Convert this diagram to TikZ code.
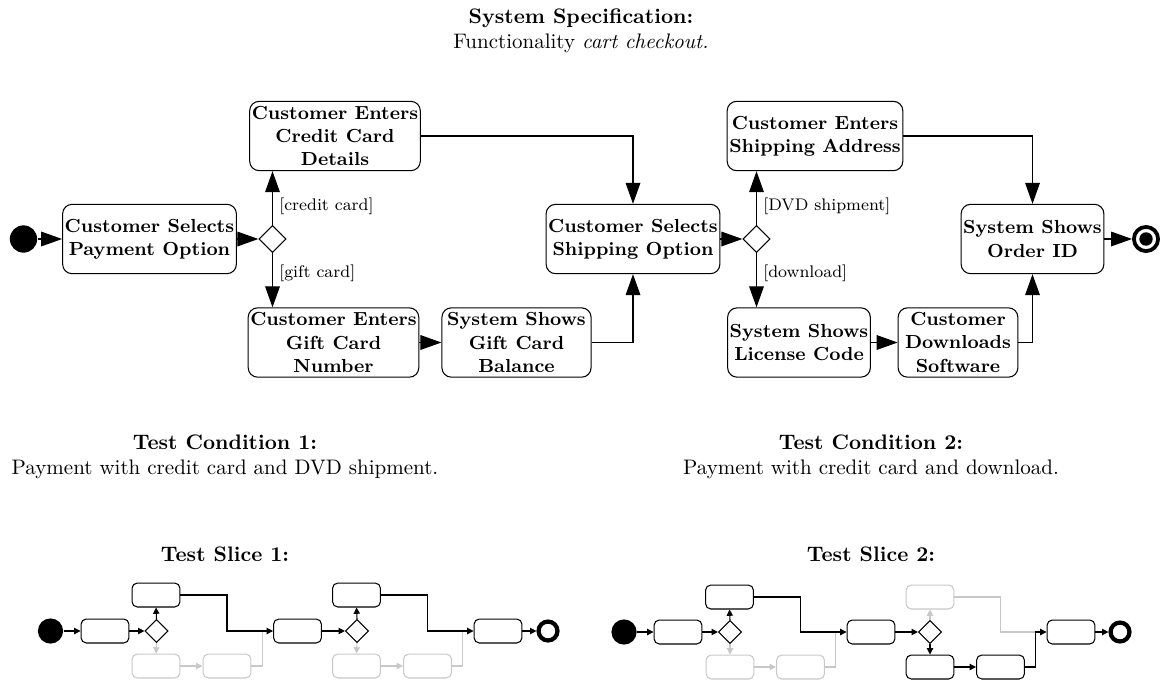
\documentclass[tikz,border=0pt]{standalone}
\usepackage{tikz}
\usepackage{xcolor}
\usetikzlibrary{arrows.meta, calc, shapes.geometric}
\definecolor{fadedgray}{RGB}{200,200,200}

\tikzset{
  action/.style={draw, rounded corners=4.5pt, align=center, font=\small\bfseries, inner sep=1pt, minimum height=33pt},
  decision/.style={draw, diamond, minimum size=13pt, inner sep=0pt},
  startdot/.style={circle, fill=black, minimum size=13pt, inner sep=0pt},
  enddot/.style={circle, draw, line width=1.8pt, minimum size=11.5pt, inner sep=0pt,
    path picture={\fill (path picture bounding box.center) circle (3.2pt);}},
  guard/.style={right, font=\footnotesize, inner sep=3pt},
  slicebox/.style={draw, rounded corners=2.5pt, minimum width=22.8pt, minimum height=11.4pt, inner sep=0pt},
  slicedec/.style={draw, diamond, minimum size=11pt, inner sep=0pt},
  sliceend/.style={circle, draw, line width=2pt, minimum size=9pt, inner sep=0pt},
  faded/.style={draw=fadedgray}
}

\begin{document}
\begin{tikzpicture}[x=0.476pt, y=-0.476pt, line width=0.5pt, >={Triangle[length=10pt,width=7pt]}]
    \useasboundingbox (0,0) rectangle (1162,680);

    % Specification
    \node[align=center] (spec) at (581,31) {\textbf{System Specification:}\\Functionality \textit{cart checkout.}};

    % Activity nodes
    \node[startdot] (start) at (23.5,239) {};
    \node[action, minimum width=78.5pt] (payopt) at (149.5,239) {Customer Selects\\Payment Option};
    \node[decision] (paydec) at (272.5,239) {};
    \node[action, minimum width=79pt] (credit) at (335,136) {Customer Enters\\Credit Card\\Details};
    \node[action, minimum width=76.7pt] (giftnum) at (333.5,342.5) {Customer Enters\\Gift Card\\Number};
    \node[action, minimum width=71pt] (giftbal) at (516.5,342.5) {System Shows\\Gift Card\\Balance};
    \node[action, minimum width=79pt] (shipopt) at (633,239) {Customer Selects\\Shipping Option};
    \node[decision] (shipdec) at (756.5,239) {};
    \node[action, minimum width=82.8pt] (address) at (815,136) {Customer Enters\\Shipping Address};
    \node[action, minimum width=67.6pt] (license) at (799,342.5) {System Shows\\License Code};
    \node[action, minimum width=57pt] (download) at (958,342.5) {Customer\\Downloads\\Software};
    \node[action, minimum width=66pt] (orderid) at (1032.5,239) {System Shows\\Order ID};
    \node[enddot] (stop) at (1146,239) {};

    % Control flow
    \draw[->] (start) -- (payopt);
    \draw[->] (payopt) -- (paydec);
    \draw[->] (paydec.north) -- (paydec.north |- credit.south) node[guard, pos=0.35] {[credit card]};
    \draw[->] (paydec.south) -- (paydec.south |- giftnum.north) node[guard, pos=0.38] {[gift card]};
    \draw[->] (giftnum) -- (giftbal);
    \draw[->] (giftbal.east) -| (shipopt.south);
    \draw[->] (credit.east) -| (shipopt.north);
    \draw[->] (shipopt) -- (shipdec);
    \draw[->] (shipdec.north) -- (shipdec.north |- address.south) node[guard, pos=0.35] {[DVD shipment]};
    \draw[->] (shipdec.south) -- (shipdec.south |- license.north) node[guard, pos=0.38] {[download]};
    \draw[->] (license) -- (download);
    \draw[->] (download.east) -| (orderid.south);
    \draw[->] (address.east) -| (orderid.north);
    \draw[->] (orderid) -- (stop);

    % Test conditions
    \node[align=center] (cond1) at (225,457) {\textbf{Test Condition 1:}\\Payment with credit card and DVD shipment.};
    \node[align=center] (cond2) at (871,457) {\textbf{Test Condition 2:}\\Payment with credit card and download.};
    \node (slice1) at (225,554) {\textbf{Test Slice 1:}};
    \node (slice2) at (871,554) {\textbf{Test Slice 2:}};

    \begin{scope}[>={Triangle[length=3pt,width=3pt]}]
        % Test slice 1
        \node[startdot, minimum size=12pt] (s1start) at (50.5,631) {};
        \node[slicebox] (s1pay) at (105,631) {};
        \node[slicedec] (s1pdec) at (156.5,631) {};
        \node[slicebox] (s1credit) at (156,595) {};
        \node[slicebox, faded] (s1gnum) at (156,666) {};
        \node[slicebox, faded] (s1gbal) at (227,666) {};
        \node[slicebox] (s1ship) at (297.5,631) {};
        \node[slicedec] (s1sdec) at (357,631) {};
        \node[slicebox] (s1addr) at (356.5,595) {};
        \node[slicebox, faded] (s1lic) at (356.5,666) {};
        \node[slicebox, faded] (s1dl) at (427.5,666) {};
        \node[slicebox] (s1order) at (498,631) {};
        \node[sliceend] (s1stop) at (548,631) {};
        \coordinate (s1join1) at ($(s1gbal.east |- s1ship.west)!0.5!(s1ship.west)$);
        \coordinate (s1join2) at ($(s1dl.east |- s1order.west)!0.5!(s1order.west)$);

        \draw[fadedgray, ->] (s1pdec.south) -- (s1gnum.north);
        \draw[fadedgray, ->] (s1gnum) -- (s1gbal);
        \draw[fadedgray] (s1gbal.east) -| (s1join1);
        \draw[fadedgray, ->] (s1sdec.south) -- (s1lic.north);
        \draw[fadedgray, ->] (s1lic) -- (s1dl);
        \draw[fadedgray] (s1dl.east) -| (s1join2);

        \draw[->] (s1start) -- (s1pay);
        \draw[->] (s1pay) -- (s1pdec);
        \draw[->] (s1pdec.north) -- (s1credit.south);
        \draw[->] (s1credit.east) -| (s1gbal.north |- s1ship.west) -- (s1ship.west);
        \draw[->] (s1ship) -- (s1sdec);
        \draw[->] (s1sdec.north) -- (s1addr.south);
        \draw[->] (s1addr.east) -| (s1dl.north |- s1order.west) -- (s1order.west);
        \draw[->] (s1order) -- (s1stop);

        % Test slice 2
        \node[startdot, minimum size=12pt] (s2start) at (624,632) {};
        \node[slicebox] (s2pay) at (678,632) {};
        \node[slicedec] (s2pdec) at (730,632) {};
        \node[slicebox] (s2credit) at (729.5,597) {};
        \node[slicebox, faded] (s2gnum) at (730,667) {};
        \node[slicebox, faded] (s2gbal) at (800.5,667) {};
        \node[slicebox] (s2ship) at (871,632) {};
        \node[slicedec] (s2sdec) at (930,632) {};
        \node[slicebox, faded] (s2addr) at (930,597) {};
        \node[slicebox] (s2lic) at (930,667) {};
        \node[slicebox] (s2dl) at (1000.5,667) {};
        \node[slicebox] (s2order) at (1071,632) {};
        \node[sliceend] (s2stop) at (1120,632) {};
        \coordinate (s2join1) at ($(s2gbal.east |- s2ship.west)!0.5!(s2ship.west)$);
        \coordinate (s2join2) at ($(s2dl.east |- s2order.west)!0.5!(s2order.west)$);

        \draw[fadedgray, ->] (s2pdec.south) -- (s2gnum.north);
        \draw[fadedgray, ->] (s2gnum) -- (s2gbal);
        \draw[fadedgray] (s2gbal.east) -| (s2join1);
        \draw[fadedgray, ->] (s2sdec.north) -- (s2addr.south);
        \draw[fadedgray] (s2addr.east) -| (s2dl.north |- s2order.west) -- (s2join2);

        \draw[->] (s2start) -- (s2pay);
        \draw[->] (s2pay) -- (s2pdec);
        \draw[->] (s2pdec.north) -- (s2credit.south);
        \draw[->] (s2credit.east) -| (s2gbal.north |- s2ship.west) -- (s2ship.west);
        \draw[->] (s2ship) -- (s2sdec);
        \draw[->] (s2sdec.south) -- (s2lic.north);
        \draw[->] (s2lic) -- (s2dl);
        \draw[->] (s2dl.east) -| (s2join2) -- (s2order.west);
        \draw[->] (s2order) -- (s2stop);
    \end{scope}
\end{tikzpicture}
\end{document}
